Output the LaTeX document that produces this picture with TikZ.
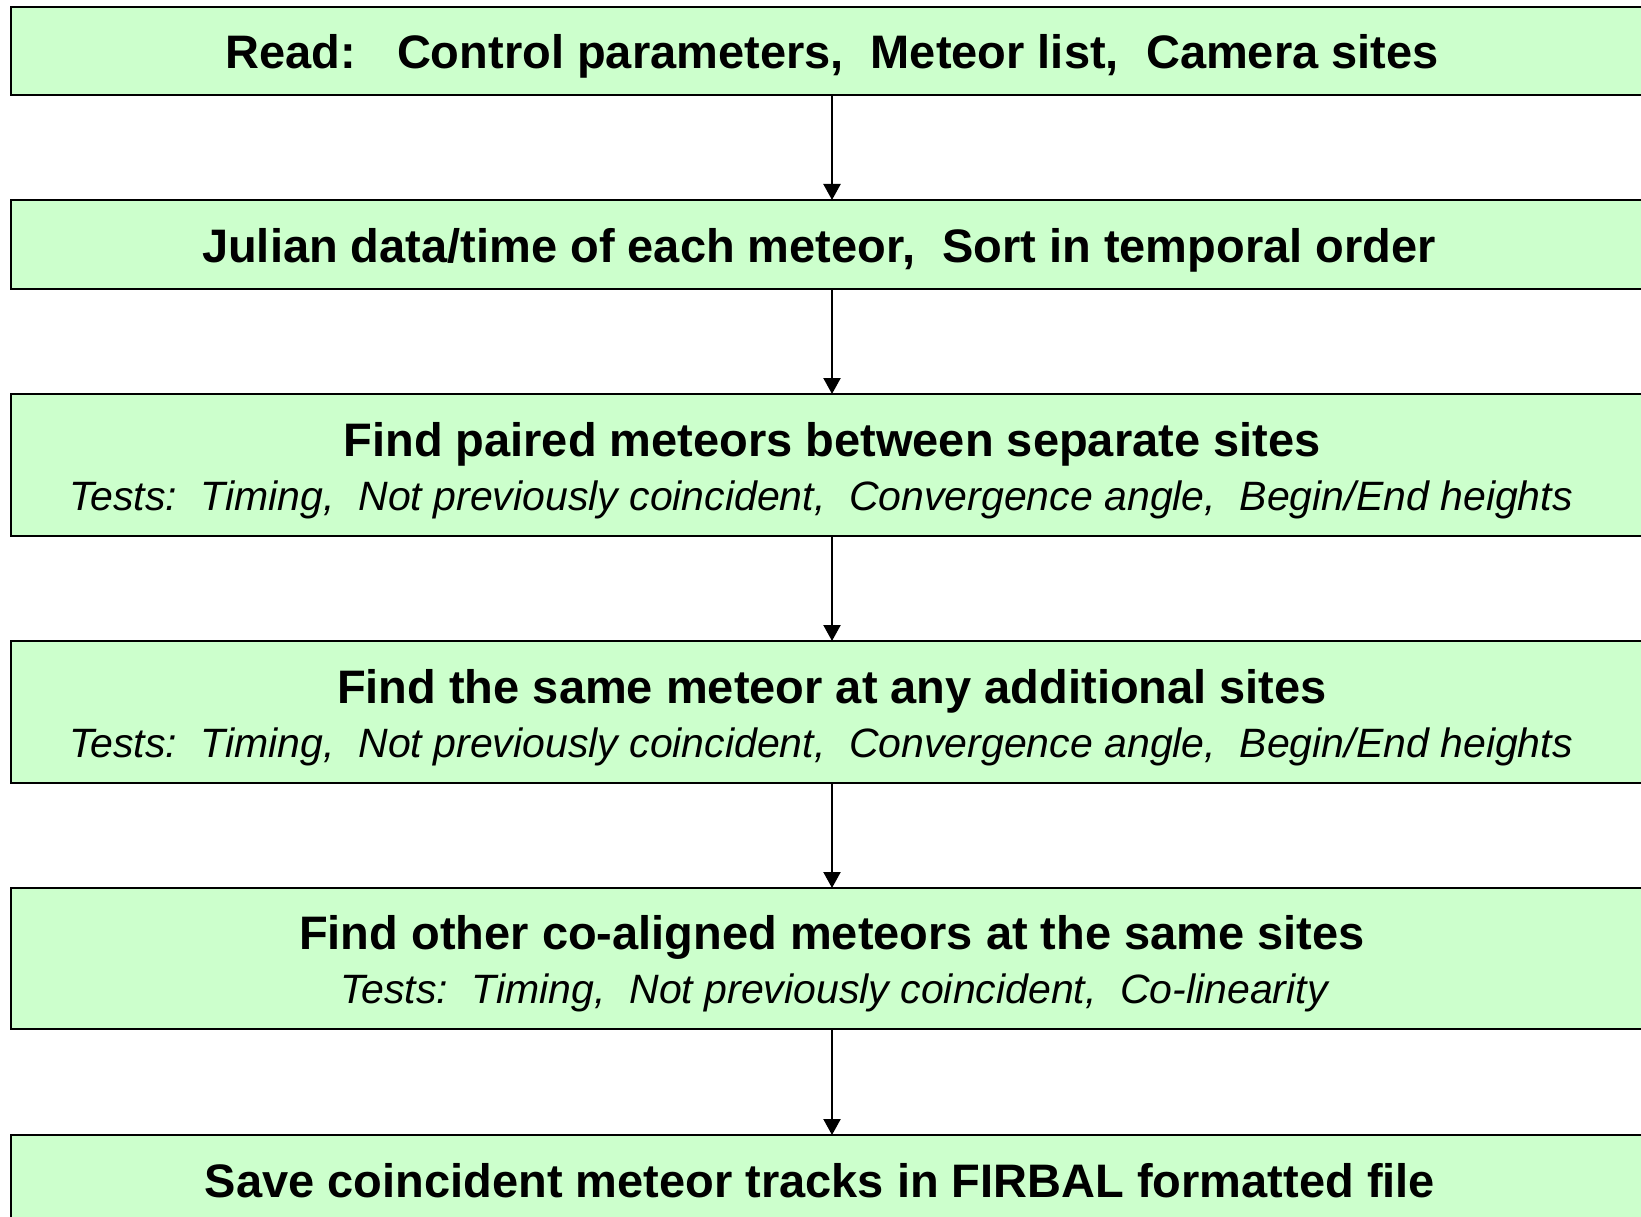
\documentclass[tikz,border=0pt]{standalone}
\usepackage{fontspec}
\setmainfont{Liberation Sans}
\usetikzlibrary{arrows.meta}
\definecolor{stepfill}{HTML}{CCFFCC}
\newcommand{\titletext}{\fontsize{47}{56}\selectfont\bfseries}
\newcommand{\teststext}{\fontsize{41}{48}\selectfont\itshape}
\newcommand{\gap}{\hspace{0.3em}}
\begin{document}
\begin{tikzpicture}[x=1pt,y=-1pt,
  stepbox/.style={draw=black,line width=2.4pt,fill=stepfill,rectangle,
    minimum width=1642pt,inner sep=0pt,outer sep=0pt},
  flow/.style={line width=2.2pt,-{Triangle[length=16pt,width=17pt]}},
  title/.style={anchor=base,inner sep=0pt,font=\titletext},
  tests/.style={anchor=base,inner sep=0pt,font=\teststext}]
\useasboundingbox (0,0) rectangle (1641,1217);
\fill[white] (0,0) rectangle (1641,1217);

% step boxes
\node[stepbox,minimum height=88pt]  (s1) at (832,51)    {};
\node[stepbox,minimum height=89pt]  (s2) at (832,244.5) {};
\node[stepbox,minimum height=142pt] (s3) at (832,465)   {};
\node[stepbox,minimum height=142pt] (s4) at (832,712)   {};
\node[stepbox,minimum height=141pt] (s5) at (832,958.5) {};
\node[stepbox,minimum height=88pt]  (s6) at (832,1179)  {};

% labels (yshift is measured upwards)
\node[title] (t1) at ([yshift=-18pt]s1.center)
  {Read:\gap\gap\ Control parameters,\gap\ Meteor list,\gap\ Camera sites};
\node[title] (t2) at ([xshift=-13pt,yshift=-18pt]s2.center)
  {Julian data/time of each meteor,\gap\ Sort in temporal order};
\node[title] (t3) at ([yshift=9pt]s3.center)
  {Find paired meteors between separate sites};
\node[tests] (u3) at ([xshift=-11pt,yshift=-45pt]s3.center)
  {Tests:\gap\ Timing,\gap\ Not previously coincident,\gap\ Convergence angle,\gap\ Begin/End heights};
\node[title] (t4) at ([yshift=9pt]s4.center)
  {Find the same meteor at any additional sites};
\node[tests] (u4) at ([xshift=-11pt,yshift=-45pt]s4.center)
  {Tests:\gap\ Timing,\gap\ Not previously coincident,\gap\ Convergence angle,\gap\ Begin/End heights};
\node[title] (t5) at ([yshift=9pt]s5.center)
  {Find other co-aligned meteors at the same sites};
\node[tests] (u5) at ([xshift=2pt,yshift=-45pt]s5.center)
  {Tests:\gap\ Timing,\gap\ Not previously coincident,\gap\ Co-linearity};
\node[title] (t6) at ([xshift=-12pt,yshift=-18pt]s6.center)
  {Save coincident meteor tracks in FIRBAL formatted file};

% connectors
\draw[flow] (s1.south) -- (s2.north);
\draw[flow] (s2.south) -- (s3.north);
\draw[flow] (s3.south) -- (s4.north);
\draw[flow] (s4.south) -- (s5.north);
\draw[flow] (s5.south) -- (s6.north);
\end{tikzpicture}
\end{document}
